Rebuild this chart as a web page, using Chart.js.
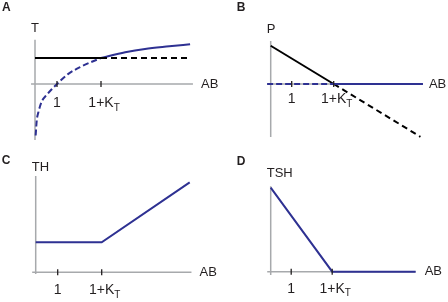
<!DOCTYPE html>
<html><head><meta charset="utf-8">
<script src="https://cdn.jsdelivr.net/npm/chart.js@4.4.0/dist/chart.umd.min.js"></script>
<style>
html,body{margin:0;padding:0;background:#fff;}
#wrap{position:relative;width:448px;height:302px;overflow:hidden;background:#fff;}
canvas{position:absolute;}
</style></head><body>
<div id="wrap">
<canvas id="cA" width="224" height="151" style="left:0px;top:0px"></canvas>
<canvas id="cB" width="224" height="151" style="left:224px;top:0px"></canvas>
<canvas id="cC" width="224" height="151" style="left:0px;top:151px"></canvas>
<canvas id="cD" width="224" height="151" style="left:224px;top:151px"></canvas>
</div>
<script>
// ---- shared labels ----
const tickValues = [1, 3];
const tickMain = ['1', '1+K'];
const tickSub = ['', 'T'];
const xTitle = 'AB';
const panelLetters = ['A', 'B', 'C', 'D'];
const yTitles = ['T', 'P', 'TH', 'TSH'];

// ---- Panel A : T vs AB ----
const aBlueDashX = [0.03, 0.08, 0.15, 0.30, 0.53, 0.75, 1.0, 1.5, 2.1, 3.0];
const aBlueDashY = [-1.98, -1.40, -1.10, -0.69, -0.42, -0.21, 0, 0.38, 0.67, 1.0];
const aBlueSolidX = [3.0, 4.1, 5.0, 6.1, 7.05];
const aBlueSolidY = [1.0, 1.22, 1.35, 1.45, 1.53];
const aBlackSolidX = [0, 3];
const aBlackSolidY = [1, 1];
const aBlackDashX = [3, 7.05];
const aBlackDashY = [1, 1];

// ---- Panel B : P vs AB ----
const bBlackSolidX = [0, 3];
const bBlackSolidY = [1.5, 0];
const bBlackDashX = [3, 7.13];
const bBlackDashY = [0, -2.07];
const bBlueDashX = [-0.17, 3];
const bBlueDashY = [0, 0];
const bBlueSolidX = [3, 7.25];
const bBlueSolidY = [0, 0];

// ---- Panel C : TH vs AB ----
const cBlueX = [0, 3, 7.0];
const cBlueY = [1, 1, 3.0];

// ---- Panel D : TSH vs AB ----
const dBlueX = [0, 3, 7.07];
const dBlueY = [3, 0, 0];

const BLUE = '#2e3192';
const BLACK = '#000000';
const GREY = '#a7a9ac';
const TXT = '#231f20';
const FONT = '"Liberation Sans", Arial, sans-serif';

function pts(xs, ys) { return xs.map((x, i) => ({x: x, y: ys[i]})); }

function ds(xs, ys, color, dash, smooth) {
  return {
    data: pts(xs, ys), borderColor: color, borderWidth: 2,
    borderDash: dash || [], pointRadius: 0, fill: false, clip: false,
    cubicInterpolationMode: smooth ? 'monotone' : 'default', tension: 0
  };
}

const schematic = {
  id: 'schematic',
  beforeDatasetsDraw(chart, args, o) {
    const ctx = chart.ctx, x = chart.scales.x, y = chart.scales.y;
    ctx.save();
    ctx.strokeStyle = GREY; ctx.lineWidth = 1.5;
    ctx.beginPath();
    ctx.moveTo(x.getPixelForValue(o.xAxis[0]), y.getPixelForValue(0));
    ctx.lineTo(x.getPixelForValue(o.xAxis[1]), y.getPixelForValue(0));
    ctx.moveTo(x.getPixelForValue(0), y.getPixelForValue(o.yAxis[0]));
    ctx.lineTo(x.getPixelForValue(0), y.getPixelForValue(o.yAxis[1]));
    ctx.stroke();
    ctx.restore();
  },
  afterDatasetsDraw(chart, args, o) {
    const ctx = chart.ctx, x = chart.scales.x, y = chart.scales.y;
    const y0 = y.getPixelForValue(0);
    ctx.save();
    // tick marks
    ctx.strokeStyle = TXT; ctx.lineWidth = 1.3;
    ctx.beginPath();
    tickValues.forEach(v => {
      const px = x.getPixelForValue(v);
      ctx.moveTo(px, y0 - 3); ctx.lineTo(px, y0 + 3);
    });
    ctx.stroke();
    // tick labels
    ctx.fillStyle = TXT;
    ctx.textBaseline = 'middle';
    tickValues.forEach((v, i) => {
      const px = x.getPixelForValue(v);
      ctx.font = '14px ' + FONT;
      const w = ctx.measureText(tickMain[i]).width;
      ctx.textAlign = 'center';
      ctx.fillText(tickMain[i], px, y0 + o.labelDy);
      if (tickSub[i]) {
        ctx.font = '10px ' + FONT;
        ctx.textAlign = 'left';
        ctx.fillText(tickSub[i], px + w / 2, y0 + o.labelDy + 5);
      }
    });
    // x title
    ctx.font = '13px ' + FONT;
    ctx.textAlign = 'left';
    ctx.fillText(xTitle, x.getPixelForValue(o.xAxis[1]) + o.abDx, y0);
    // y title
    ctx.font = '13px ' + FONT;
    ctx.fillText(o.yTitle, x.getPixelForValue(0) - 4, y.getPixelForValue(o.yAxis[1]) + o.titleDy);
    // panel letter
    ctx.font = 'bold 12px ' + FONT;
    ctx.fillText(o.letter, o.letterPos[0], o.letterPos[1]);
    ctx.restore();
  }
};

function makePanel(id, p) {
  const W = 224, H = 151;
  const padding = {
    left: p.ox - (0 - p.xmin) * p.sx,
    right: W - (p.ox + p.xmax * p.sx),
    top: p.oy - p.ymax * p.sy,
    bottom: H - (p.oy - p.ymin * p.sy)
  };
  new Chart(document.getElementById(id), {
    type: 'line',
    data: { datasets: p.datasets },
    options: {
      responsive: false, animation: false, events: [],
      layout: { padding: padding },
      scales: {
        x: { type: 'linear', min: p.xmin, max: p.xmax, display: false },
        y: { type: 'linear', min: p.ymin, max: p.ymax, display: false }
      },
      plugins: {
        legend: { display: false }, tooltip: { enabled: false },
        schematic: {
          xAxis: p.xAxis, yAxis: p.yAxis, labelDy: p.labelDy, abDx: p.abDx,
          yTitle: p.yTitle, titleDy: p.titleDy, letter: p.letter, letterPos: p.letterPos
        }
      }
    },
    plugins: [schematic]
  });
}

makePanel('cA', {
  ox: 35, oy: 84, sx: 22, sy: 26, xmin: 0, xmax: 8, ymin: -2.5, ymax: 2,
  xAxis: [-0.18, 7.18], yAxis: [-2.15, 1.7], labelDy: 19, abDx: 8,
  yTitle: yTitles[0], titleDy: -11, letter: panelLetters[0], letterPos: [2, 7.5],
  datasets: [
    ds(aBlackSolidX, aBlackSolidY, BLACK),
    ds(aBlackDashX, aBlackDashY, BLACK, [6, 4]),
    ds(aBlueDashX, aBlueDashY, BLUE, [6, 3], true),
    ds(aBlueSolidX, aBlueSolidY, BLUE, null, true)
  ]
});

makePanel('cB', {
  ox: 46.7, oy: 84, sx: 21, sy: 25.5, xmin: 0, xmax: 8, ymin: -2.5, ymax: 2,
  xAxis: [-0.17, 7.25], yAxis: [-2.08, 1.69], labelDy: 15, abDx: 6,
  yTitle: yTitles[1], titleDy: -11, letter: panelLetters[1], letterPos: [12.7, 7.5],
  datasets: [
    ds(bBlueDashX, bBlueDashY, BLUE, [6, 3]),
    ds(bBlueSolidX, bBlueSolidY, BLUE),
    ds(bBlackSolidX, bBlackSolidY, BLACK),
    ds(bBlackDashX, bBlackDashY, BLACK, [6, 4])
  ]
});

makePanel('cC', {
  ox: 35.7, oy: 121.3, sx: 22, sy: 30, xmin: 0, xmax: 8, ymin: -0.5, ymax: 3.5,
  xAxis: [-0.16, 7.08], yAxis: [-0.06, 3.21], labelDy: 18, abDx: 8,
  yTitle: yTitles[2], titleDy: -9, letter: panelLetters[2], letterPos: [1.7, 9.5],
  datasets: [ ds(cBlueX, cBlueY, BLUE) ]
});

makePanel('cD', {
  ox: 46.7, oy: 120.7, sx: 20.5, sy: 28, xmin: 0, xmax: 8, ymin: -0.5, ymax: 3.5,
  xAxis: [-0.17, 7.07], yAxis: [-0.12, 3.05], labelDy: 17, abDx: 9,
  yTitle: yTitles[3], titleDy: -13, letter: panelLetters[3], letterPos: [12.7, 10.5],
  datasets: [ ds(dBlueX, dBlueY, BLUE) ]
});
</script>
</body></html>
